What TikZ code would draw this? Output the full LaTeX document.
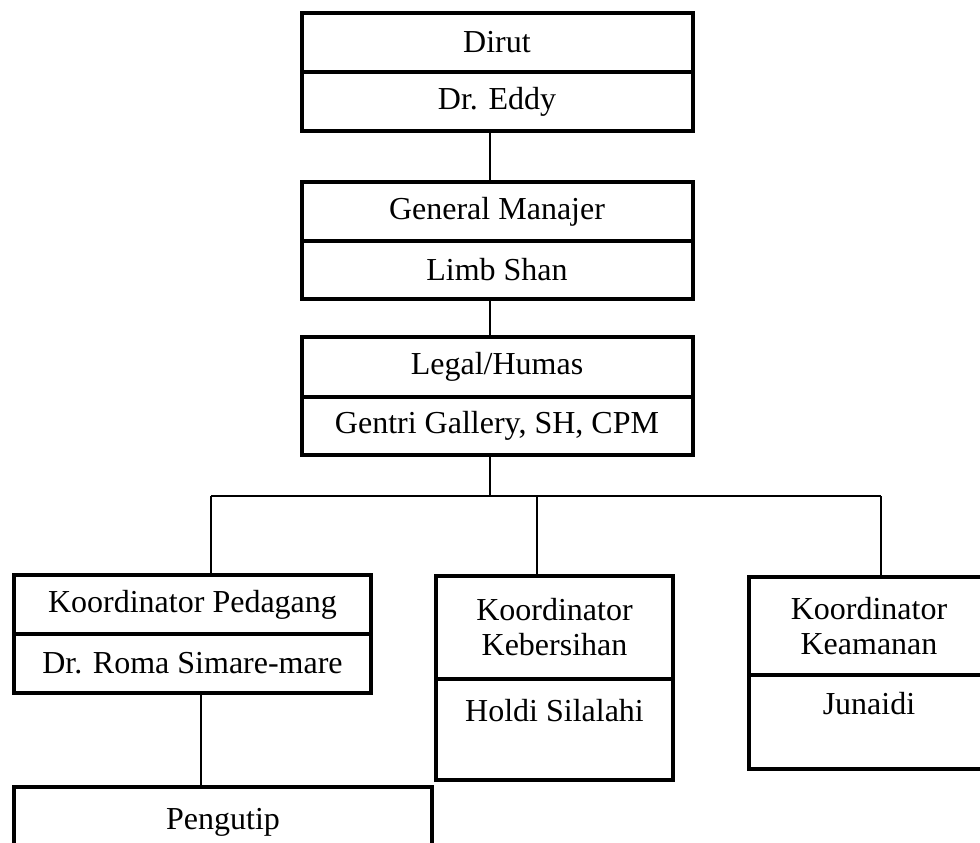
\documentclass[tikz,border=0pt]{standalone}
\usepackage{fontspec}
\setmainfont{Liberation Serif}
\usetikzlibrary{positioning}

\begin{document}
\begin{tikzpicture}[
        x=0.5pt, y=-0.5pt,
        unit/.style={
            draw,
            line width=2pt,
            inner sep=0pt,
            outer sep=0pt,
            align=center,
            font=\fontsize{16}{17.5}\selectfont
        },
        topname/.style={text height=11pt, text depth=19pt},
        link/.style={line width=0.75pt}
    ]

    \clip (0,0) rectangle (980,842);

    \node[unit, minimum width=195.5pt, minimum height=29.5pt] (dirutA) at (497,42.5) {Dirut};
    \node[unit, minimum width=195.5pt, minimum height=29.5pt, below=0pt of dirutA] (dirutB) {Dr. Eddy};

    \node[unit, minimum width=195.5pt, minimum height=29.5pt] (gmA) at (497,211.5) {General Manajer};
    \node[unit, minimum width=195.5pt, minimum height=29pt, below=0pt of gmA] (gmB) {Limb Shan};

    \node[unit, minimum width=195.5pt, minimum height=30pt] (legalA) at (497,367) {Legal/Humas};
    \node[unit, minimum width=195.5pt, minimum height=29pt, below=0pt of legalA] (legalB) {Gentri Gallery, SH, CPM};

    \node[unit, minimum width=178.5pt, minimum height=29.5pt] (pedA) at (192.5,604.5) {Koordinator Pedagang};
    \node[unit, minimum width=178.5pt, minimum height=29.5pt, below=0pt of pedA] (pedB) {Dr. Roma Simare-mare};

    \node[unit, minimum width=118.5pt, minimum height=51.5pt] (kebA) at (554.5,627.5) {Koordinator\\Kebersihan};
    \node[unit, topname, minimum width=118.5pt, minimum height=50.5pt, below=0pt of kebA] (kebB) {Holdi Silalahi};

    \node[unit, minimum width=120pt, minimum height=49pt] (keaA) at (869,626) {Koordinator\\Keamanan};
    \node[unit, topname, minimum width=120pt, minimum height=47pt, below=0pt of keaA] (keaB) {Junaidi};

    \node[unit, minimum width=209pt, minimum height=35pt] (peng) at (223,822) {Pengutip};

    % connector points
    \coordinate (spine) at (490,0);
    \coordinate (dropP) at (211,496);
    \coordinate (dropK) at (537,496);
    \coordinate (dropA) at (881,496);
    \coordinate (subP) at (201,0);

    \draw[link] (dirutB.south -| spine) -- (gmA.north -| spine);
    \draw[link] (gmB.south -| spine) -- (legalA.north -| spine);
    \draw[link] (legalB.south -| spine) -- (spine |- dropP);
    \draw[link] (dropP) -- (dropA);
    \draw[link] (dropP) -- (dropP |- pedA.north);
    \draw[link] (dropK) -- (dropK |- kebA.north);
    \draw[link] (dropA) -- (dropA |- keaA.north);
    \draw[link] (pedB.south -| subP) -- (peng.north -| subP);

\end{tikzpicture}
\end{document}
